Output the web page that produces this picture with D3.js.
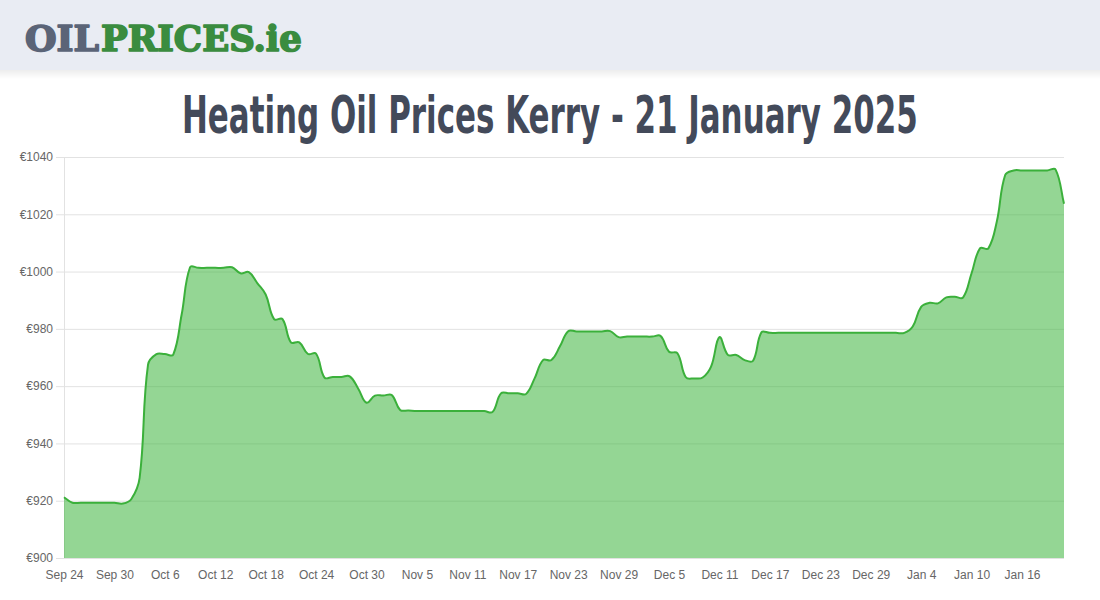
<!DOCTYPE html>
<html>
<head>
<meta charset="utf-8">
<script src="https://cdn.jsdelivr.net/npm/d3@7"></script>
<style>
  html, body { margin: 0; padding: 0; background: #ffffff; }
  svg { display: block; }
</style>
</head>
<body>
<svg id="chart" width="1100" height="600"></svg>
<script>
// ---- Data ----
const titleText = "Heating Oil Prices Kerry - 21 January 2025";
const startDate = new Date(2024, 8, 24);   // Sep 24, 2024
const endDate = new Date(2025, 0, 22);     // exclusive: last point Jan 21, 2025
const categories = d3.timeDay.range(startDate, endDate);

const prices = [
  921.2, 919.3, 919.3, 919.3, 919.3, 919.3, 919.3, 919.0, 920.5, 928.0,
  967.5, 971.2, 971.2, 971.0, 985.0, 1001.5, 1001.3, 1001.3, 1001.3, 1001.3,
  1001.5, 999.4, 999.8, 996.0, 992.0, 983.4, 983.4, 975.3, 975.3, 971.3,
  971.3, 963.0, 963.2, 963.2, 963.4, 959.2, 954.2, 956.7, 956.7, 956.9,
  951.7, 951.5, 951.3, 951.3, 951.3, 951.3, 951.3, 951.3, 951.3, 951.3,
  951.3, 951.0, 957.5, 957.5, 957.5, 957.3, 962.7, 969.1, 969.1, 973.8,
  979.2, 979.1, 979.1, 979.1, 979.1, 979.2, 977.1, 977.3, 977.3, 977.3,
  977.3, 977.5, 972.0, 971.5, 963.1, 962.7, 963.0, 966.8, 977.1, 970.9,
  970.9, 969.1, 968.9, 978.8, 978.6, 978.6, 978.6, 978.6, 978.6, 978.6,
  978.6, 978.6, 978.6, 978.6, 978.6, 978.6, 978.6, 978.6, 978.6, 978.6,
  978.6, 980.8, 987.7, 989.1, 988.9, 991.0, 991.2, 991.0, 999.4, 1008.1,
  1008.1, 1017.4, 1033.7, 1035.3, 1035.3, 1035.3, 1035.3, 1035.3, 1035.6, 1023.7
];

const yTicks = [900, 920, 940, 960, 980, 1000, 1020, 1040];
const xTickLabels = ["Sep 24", "Sep 30", "Oct 6", "Oct 12", "Oct 18", "Oct 24", "Oct 30",
  "Nov 5", "Nov 11", "Nov 17", "Nov 23", "Nov 29", "Dec 5", "Dec 11", "Dec 17",
  "Dec 23", "Dec 29", "Jan 4", "Jan 10", "Jan 16"];

// ---- Layout ----
const svg = d3.select("#chart");
const W = 1100, H = 600;
const plot = { left: 64, right: 1064, top: 157, bottom: 558 };

const fmt = d3.timeFormat("%b %-d");
const catKeys = categories.map(d => fmt(d));

const x = d3.scalePoint().domain(catKeys).range([plot.left, plot.right]);
const y = d3.scaleLinear().domain([900, 1040]).range([plot.bottom, plot.top]);

// helper: draw text and squeeze horizontally to a target width
function fitText(g, str, x0, yBase, width, attrs) {
  const t = g.append("text").attr("x", 0).attr("y", 0).text(str);
  Object.entries(attrs).forEach(([k, v]) => t.attr(k, v));
  const natural = t.node().getComputedTextLength();
  const sx = width / natural;
  t.attr("transform", `translate(${x0},${yBase}) scale(${sx},1)`);
  return t;
}

// ---- Header ----
const defs = svg.append("defs");
const grad = defs.append("linearGradient").attr("id", "hdrShadow")
  .attr("x1", 0).attr("y1", 0).attr("x2", 0).attr("y2", 1);
grad.append("stop").attr("offset", "0%").attr("stop-color", "rgba(0,0,0,0.07)");
grad.append("stop").attr("offset", "100%").attr("stop-color", "rgba(0,0,0,0)");

svg.append("rect").attr("x", 0).attr("y", 0).attr("width", W).attr("height", 70)
  .attr("fill", "#e9ecf3");
svg.append("rect").attr("x", 0).attr("y", 70).attr("width", W).attr("height", 9)
  .attr("fill", "url(#hdrShadow)");

const logoFont = "'DejaVu Serif Condensed', 'DejaVu Serif', serif";
fitText(svg, "OIL", 25, 51, 74, {
  "font-family": logoFont, "font-weight": "bold", "font-size": 36,
  "fill": "#5b6477", "stroke": "#5b6477", "stroke-width": 1.6, "stroke-linejoin": "round"
});
fitText(svg, "PRICES.ie", 101, 51, 201, {
  "font-family": logoFont, "font-weight": "bold", "font-size": 36,
  "fill": "#3a8c3f", "stroke": "#3a8c3f", "stroke-width": 1.6, "stroke-linejoin": "round"
});

// ---- Title ----
fitText(svg, titleText, 182, 133, 736, {
  "font-family": "'Liberation Sans Narrow', 'DejaVu Sans Condensed', sans-serif",
  "font-weight": "bold", "font-size": 52, "fill": "#434a5a"
});

// ---- Grid & axes ----
const gridG = svg.append("g");
gridG.selectAll("line.grid").data(yTicks).join("line")
  .attr("x1", plot.left - 8).attr("x2", plot.right)
  .attr("y1", d => y(d) + 0.5).attr("y2", d => y(d) + 0.5)
  .attr("stroke", "#e2e2e2").attr("stroke-width", 1);
gridG.append("line")
  .attr("x1", plot.left + 0.5).attr("x2", plot.left + 0.5)
  .attr("y1", plot.top).attr("y2", plot.bottom)
  .attr("stroke", "#e2e2e2").attr("stroke-width", 1);

const yAxis = d3.axisLeft(y).tickValues(yTicks).tickSize(0).tickPadding(0)
  .tickFormat(d => "€" + d);
const yAxisG = svg.append("g").attr("transform", `translate(${plot.left - 11},0)`).call(yAxis);
yAxisG.select(".domain").remove();
yAxisG.selectAll("text")
  .attr("font-family", "'Liberation Sans', Arial, sans-serif").attr("font-size", 12)
  .attr("fill", "#666");

const xAxis = d3.axisBottom(x).tickValues(xTickLabels).tickSize(0).tickPadding(0);
const xAxisG = svg.append("g").attr("transform", `translate(0,${plot.bottom + 12})`).call(xAxis);
xAxisG.select(".domain").remove();
xAxisG.selectAll("text")
  .attr("font-family", "'Liberation Sans', Arial, sans-serif").attr("font-size", 12)
  .attr("fill", "#666").attr("dy", "0.71em");

// ---- Spline (Chart.js-style tension 0.4) ----
const pts = prices.map((v, i) => ({ x: x(catKeys[i]), y: y(v) }));
const tension = 0.4;
const cps = pts.map((p, i) => {
  const prev = pts[i - 1] || p, next = pts[i + 1] || p;
  const d01 = Math.hypot(p.x - prev.x, p.y - prev.y);
  const d12 = Math.hypot(next.x - p.x, next.y - p.y);
  let s01 = d01 / (d01 + d12), s12 = d12 / (d01 + d12);
  if (isNaN(s01)) s01 = 0; if (isNaN(s12)) s12 = 0;
  const fa = tension * s01, fb = tension * s12;
  const clampY = v => Math.max(plot.top, Math.min(plot.bottom, v));
  return {
    px: p.x - fa * (next.x - prev.x), py: clampY(p.y - fa * (next.y - prev.y)),
    nx: p.x + fb * (next.x - prev.x), ny: clampY(p.y + fb * (next.y - prev.y))
  };
});
function linePath(ctx) {
  ctx.moveTo(pts[0].x, pts[0].y);
  for (let i = 1; i < pts.length; i++) {
    ctx.bezierCurveTo(cps[i - 1].nx, cps[i - 1].ny, cps[i].px, cps[i].py, pts[i].x, pts[i].y);
  }
  return ctx;
}
const areaCtx = linePath(d3.path());
areaCtx.lineTo(pts[pts.length - 1].x, y(900));
areaCtx.lineTo(pts[0].x, y(900));
areaCtx.closePath();

svg.append("path").attr("d", areaCtx.toString())
  .attr("fill", "rgba(60,180,60,0.55)");
svg.append("path").attr("d", linePath(d3.path()).toString())
  .attr("fill", "none").attr("stroke", "#3bb03b").attr("stroke-width", 2)
  .attr("stroke-linejoin", "round");
</script>
</body>
</html>
